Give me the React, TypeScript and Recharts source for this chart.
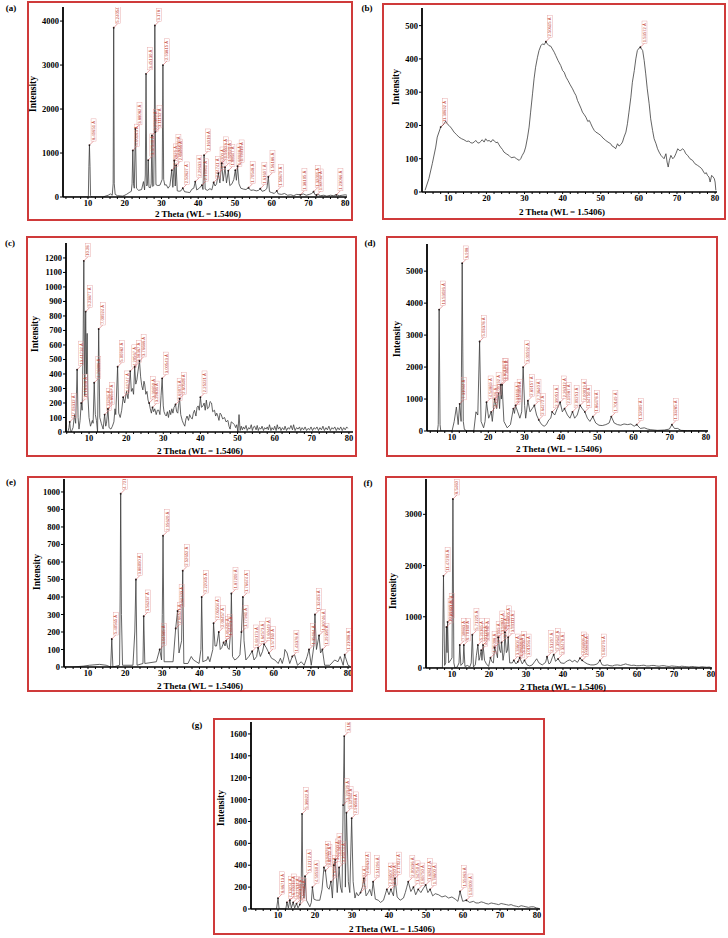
import { ComposedChart, Line, Scatter, XAxis, YAxis } from 'recharts'

// XRD patterns, [2 theta, intensity]
const patternA: [number, number][] = [
  [3.2, 0], [9.9, 0], [10.1, 20], [10.25, 700], [10.4, 1180], [10.55, 700], [10.7, 30], [11, 0], [14, 0], [15.5, 40],
  [16.1, 70], [16.6, 40], [16.85, 300], [17.0, 3850], [17.15, 300], [17.4, 60], [18, 30], [19.5, 20], [20.5, 60],
  [21.2, 100], [21.8, 130], [22.0, 300], [22.2, 1060], [22.4, 300], [22.6, 200], [22.9, 1550], [23.2, 200],
  [23.8, 150], [24.6, 170], [25.1, 350], [25.4, 160], [25.6, 500], [25.8, 2800], [26.0, 250], [26.2, 300],
  [26.4, 840], [26.6, 220], [27.0, 210], [27.2, 300], [27.4, 1400], [27.6, 240], [27.9, 260], [28.05, 1500],
  [28.2, 3900], [28.35, 1480], [28.5, 280], [29.0, 260], [29.6, 270], [30.2, 400], [30.4, 3000], [30.6, 400],
  [30.9, 270], [31.3, 280], [31.8, 200], [32.3, 260], [32.8, 610], [33.1, 220], [33.5, 830], [33.75, 250],
  [34.0, 720], [34.3, 140], [34.8, 130], [35.3, 140], [35.8, 200], [36.3, 120], [37.0, 110], [37.7, 100],
  [38.3, 180], [38.8, 200], [39.2, 350], [39.6, 160], [40.3, 200], [41.0, 270], [41.3, 170], [41.6, 950],
  [41.9, 180], [42.5, 150], [43.2, 190], [43.7, 160], [44.2, 330], [44.6, 250], [45.0, 300], [45.5, 540],
  [45.9, 320], [46.4, 770], [46.8, 360], [47.3, 680], [47.7, 320], [48.2, 600], [48.6, 260], [49.2, 300],
  [49.7, 400], [50.1, 610], [50.4, 380], [50.7, 700], [51.1, 300], [51.6, 200], [52.3, 180], [53.0, 170],
  [53.7, 210], [54.3, 150], [55.0, 160], [55.8, 140], [56.4, 150], [56.9, 190], [57.4, 130], [58.2, 150],
  [58.7, 200], [59.1, 460], [59.4, 120], [60.0, 100], [60.7, 80], [61.4, 140], [61.8, 70], [62.7, 60],
  [63.5, 80], [64.3, 40], [65.2, 50], [66.0, 30], [66.8, 60], [67.8, 50], [68.6, 70], [69.4, 40], [70.3, 60],
  [70.9, 80], [71.4, 120], [71.8, 50], [72.5, 60], [73.3, 30], [74.2, 40], [75.0, 20], [76.0, 40], [76.8, 30],
  [77.6, 50], [78.4, 30], [79.2, 40], [80.0, 50], [80.5, 40],
]

const patternB: [number, number][] = [
  [3.9, 5], [4.9, 40], [5.8, 85], [6.7, 135], [7.1, 165], [8.0, 195], [8.5, 200], [8.9, 205], [9.3, 213],
  [9.7, 205], [10.2, 200], [10.8, 192], [11.5, 180], [12.2, 172], [12.8, 165], [13.5, 160], [14.1, 157],
  [14.8, 152], [15.4, 153], [15.9, 148], [16.3, 147], [16.8, 150], [17.2, 155], [17.7, 148], [18.1, 147],
  [18.5, 152], [18.9, 157], [19.4, 150], [19.8, 160], [20.3, 153], [20.7, 155], [21.2, 150], [21.6, 157],
  [22.0, 155], [22.5, 148], [22.9, 150], [23.3, 142], [23.7, 135], [24.2, 128], [24.6, 120], [25.2, 115],
  [25.9, 110], [26.5, 103], [27.3, 105], [27.9, 100], [28.6, 95], [29.0, 100], [29.4, 110], [29.9, 120],
  [30.3, 135], [30.8, 165], [31.2, 195], [31.6, 240], [32.1, 295], [32.5, 340], [32.9, 375], [33.4, 405],
  [33.8, 425], [34.3, 440], [34.7, 445], [35.2, 443], [35.6, 452], [36.0, 445], [36.4, 440], [36.9, 438],
  [37.3, 430], [37.8, 420], [38.2, 410], [38.8, 395], [39.5, 380], [40.0, 365], [40.4, 360], [40.9, 345],
  [41.4, 335], [42.0, 322], [42.6, 310], [43.1, 298], [43.5, 290], [43.9, 275], [44.3, 265], [44.8, 252],
  [45.2, 240], [45.7, 232], [46.1, 225], [46.6, 212], [47.0, 215], [47.4, 205], [47.8, 195], [48.3, 185],
  [48.7, 180], [49.3, 176], [50.0, 170], [50.6, 162], [51.3, 155], [51.9, 150], [52.6, 145], [53.0, 138],
  [53.5, 135], [53.9, 130], [54.4, 145], [54.8, 138], [55.3, 143], [55.7, 150], [56.1, 165], [56.6, 180],
  [57.0, 205], [57.4, 240], [57.9, 285], [58.3, 330], [58.8, 365], [59.2, 400], [59.6, 425], [60.0, 432],
  [60.4, 435], [60.7, 430], [61.0, 425], [61.4, 395], [61.8, 355], [62.2, 310], [62.7, 265], [63.1, 220],
  [63.6, 185], [64.0, 160], [64.5, 145], [64.9, 130], [65.3, 120], [65.8, 110], [66.2, 105], [66.6, 100],
  [67.1, 115], [67.4, 90], [67.7, 75], [68.0, 95], [68.4, 110], [68.9, 100], [69.3, 105], [69.7, 115],
  [70.2, 130], [70.6, 125], [71.0, 125], [71.5, 130], [71.9, 125], [72.3, 115], [72.8, 110], [73.4, 100],
  [74.1, 95], [74.7, 85], [75.4, 80], [76.0, 75], [76.5, 70], [77.0, 60], [77.3, 55], [77.7, 58], [78.0, 50],
  [78.4, 45], [78.7, 30], [79.1, 50], [79.5, 45], [79.8, 40], [80.0, 30], [80.2, 5],
]

const patternC: [number, number][] = [
  [4.3, 0], [4.6, 30], [4.8, 70], [5.0, 10], [5.2, 0], [5.7, 30], [6.1, 120], [6.4, 60], [6.8, 430], [7.05, 100],
  [7.3, 20], [7.6, 80], [7.9, 200], [8.15, 150], [8.4, 600], [8.6, 1180], [8.85, 250], [9.1, 830], [9.3, 400],
  [9.5, 680], [9.7, 250], [10.0, 100], [10.4, 40], [10.9, 80], [11.1, 60], [11.4, 340], [11.7, 120], [12.0, 80],
  [12.3, 0], [12.6, 710], [12.9, 100], [13.3, 60], [13.8, 20], [14.2, 120], [14.5, 40], [14.7, 60], [15.1, 160],
  [15.4, 30], [15.9, 20], [16.3, 40], [16.7, 70], [17.0, 160], [17.2, 120], [17.7, 450], [18.0, 130], [18.4, 100],
  [18.8, 150], [19.2, 240], [19.6, 200], [20.1, 280], [20.5, 230], [20.8, 320], [21.1, 420], [21.4, 280],
  [21.7, 300], [22.0, 260], [22.3, 450], [22.6, 330], [22.9, 360], [23.2, 420], [23.6, 490], [23.9, 380],
  [24.2, 320], [24.5, 290], [24.8, 350], [25.0, 330], [25.3, 260], [25.6, 280], [25.9, 220], [26.2, 200],
  [26.5, 160], [26.8, 130], [27.1, 170], [27.4, 140], [27.7, 160], [28.1, 120], [28.4, 150], [28.8, 150],
  [29.1, 120], [29.4, 250], [29.7, 370], [30.0, 180], [30.2, 140], [30.5, 120], [30.8, 110], [31.1, 140],
  [31.4, 100], [31.7, 150], [32.0, 120], [32.3, 160], [32.6, 130], [32.9, 170], [33.3, 190], [33.6, 140],
  [33.9, 130], [34.1, 180], [34.4, 230], [34.7, 120], [35.1, 80], [35.4, 60], [35.8, 40], [36.1, 90], [36.4, 110],
  [36.8, 80], [37.1, 120], [37.4, 100], [37.8, 90], [38.1, 130], [38.4, 150], [38.8, 110], [39.1, 170],
  [39.4, 180], [39.7, 150], [40.0, 240], [40.3, 170], [40.7, 180], [41.0, 200], [41.3, 150], [41.6, 220],
  [41.9, 160], [42.3, 170], [42.6, 210], [43.0, 200], [43.3, 140], [43.8, 150], [44.1, 110], [44.4, 130],
  [44.7, 110], [45.0, 80], [45.3, 130], [45.6, 120], [46.0, 90], [46.5, 100], [46.9, 70], [47.4, 80], [47.7, 40],
  [48.0, 20], [48.3, 70], [48.8, 60], [49.2, 50], [49.5, 30], [49.8, 50], [50.1, 0], [50.4, 120], [50.7, 10],
  [51.0, 40], [51.3, 15], [51.6, 35], [51.9, 20], [52.3, 45], [52.6, 10], [53.0, 30], [53.3, 20], [53.7, 50],
  [54.0, 10], [54.3, 35], [54.6, 40], [55.0, 15], [55.3, 45], [55.6, 10], [55.9, 30], [56.3, 20], [56.6, 40],
  [57.0, 10], [57.3, 30], [57.7, 20], [58.0, 35], [58.3, 15], [58.6, 50], [59.0, 10], [59.3, 30], [59.7, 15],
  [60.0, 40], [60.4, 10], [60.7, 50], [61.0, 20], [61.4, 35], [61.7, 10], [62.1, 30], [62.5, 15], [62.8, 40],
  [63.2, 10], [63.6, 30], [64.0, 20], [64.4, 45], [64.8, 15], [65.1, 50], [65.5, 10], [65.9, 30], [66.3, 20],
  [66.7, 35], [67.0, 10], [67.4, 30], [67.8, 15], [68.2, 35], [68.6, 10], [69.0, 25], [69.4, 15], [69.8, 35],
  [70.2, 10], [70.6, 30], [71.0, 20], [71.4, 35], [71.8, 10], [72.2, 30], [72.6, 15], [73.0, 40], [73.4, 10],
  [73.8, 30], [74.2, 15], [74.6, 40], [75.0, 10], [75.4, 30], [75.8, 20], [76.2, 35], [76.6, 10], [77.0, 30],
  [77.4, 15], [77.8, 35], [78.2, 10], [78.6, 30], [79.0, 15], [79.4, 35], [79.7, 25],
]

const patternD: [number, number][] = [
  [3.1, 0], [6.0, 0], [6.2, 200], [6.45, 3800], [6.7, 200], [6.9, 0], [10.0, 0], [10.6, 300], [11.2, 750],
  [11.7, 200], [12.1, 850], [12.5, 300], [12.8, 5250], [13.1, 300], [13.4, 50], [14.1, 0], [16.0, 0], [16.6, 600],
  [17.1, 500], [17.6, 2800], [18.0, 300], [18.7, 100], [19.1, 300], [19.5, 900], [20.1, 400], [20.8, 600],
  [21.1, 300], [21.7, 1000], [22.3, 700], [22.8, 1200], [23.1, 700], [23.4, 1450], [23.6, 1000], [23.8, 1450],
  [24.3, 300], [25.2, 100], [26.1, 200], [26.9, 700], [27.2, 550], [27.5, 800], [28.1, 600], [28.7, 400],
  [29.2, 600], [29.6, 2000], [30.0, 800], [30.3, 400], [30.9, 950], [31.5, 600], [32.1, 700], [32.7, 800],
  [33.3, 500], [33.9, 350], [34.4, 250], [34.9, 180], [35.4, 150], [36.0, 200], [36.7, 350], [37.2, 400],
  [37.6, 600], [38.3, 500], [39.0, 700], [39.8, 900], [40.4, 600], [41.0, 700], [41.8, 500], [42.5, 400],
  [43.2, 600], [43.8, 400], [44.5, 500], [45.3, 800], [45.9, 700], [46.6, 600], [47.3, 400], [48.0, 300],
  [48.8, 450], [49.6, 250], [50.5, 180], [51.4, 170], [52.4, 200], [53.3, 250], [53.9, 450], [54.7, 250],
  [55.6, 200], [56.5, 180], [57.4, 220], [58.4, 200], [59.3, 220], [60.2, 150], [60.9, 200], [61.9, 80],
  [63.0, 100], [63.9, 60], [64.8, 40], [65.7, 30], [66.6, 20], [68.5, 30], [69.9, 60], [70.6, 200], [71.3, 80],
  [72.2, 80], [73.1, 20], [74.9, 10], [77.7, 10], [80.5, 0],
]

const patternE: [number, number][] = [
  [3.5, 0], [6.0, 0], [8.7, 5], [10.4, 10], [13.1, 15], [14.9, 10], [16.1, 0], [16.4, 160], [16.7, 0], [18.5, 10],
  [18.65, 400], [18.8, 990], [19.0, 300], [19.3, 10], [22.1, 10], [22.6, 200], [22.9, 500], [23.2, 10], [24.8, 20],
  [25.0, 290], [25.3, 20], [28.4, 30], [29.3, 100], [29.8, 40], [30.0, 300], [30.2, 750], [30.5, 30], [32.9, 30],
  [33.6, 220], [34.1, 320], [34.5, 80], [35.2, 150], [35.5, 550], [35.8, 20], [36.9, 20], [37.8, 60], [38.4, 40],
  [39.9, 20], [40.4, 100], [40.6, 400], [40.9, 30], [42.0, 40], [42.3, 60], [42.8, 30], [43.6, 100], [43.8, 250],
  [44.2, 120], [44.6, 120], [45.2, 200], [45.6, 100], [46.0, 110], [46.5, 140], [46.9, 120], [47.2, 150],
  [47.6, 110], [48.0, 100], [48.4, 200], [48.6, 420], [48.9, 60], [49.5, 40], [50.2, 50], [50.9, 70], [51.3, 200],
  [51.7, 400], [52.0, 150], [52.5, 40], [53.3, 60], [54.2, 90], [54.7, 40], [55.4, 60], [55.8, 110], [56.4, 60],
  [57.0, 90], [57.4, 130], [58.0, 110], [58.7, 80], [59.4, 50], [60.3, 40], [61.2, 20], [61.8, 50], [62.3, 20],
  [62.8, 60], [63.0, 100], [63.6, 80], [64.3, 20], [65.0, 60], [65.6, 70], [66.4, 10], [67.4, 30], [68.2, 10],
  [69.0, 60], [69.5, 100], [70.1, 10], [70.8, 120], [71.1, 300], [71.5, 100], [72.2, 180], [72.6, 80],
  [73.1, 100], [73.7, 10], [75.1, 10], [76.4, 40], [77.3, 30], [77.9, 60], [78.7, 10], [79.1, 70], [80.0, 10],
  [80.5, 5],
]

const patternF: [number, number][] = [
  [3.0, 0], [7.4, 0], [7.7, 1800], [8.0, 50], [8.3, 100], [8.5, 800], [8.65, 300], [8.8, 900], [9.1, 100],
  [9.7, 160], [10.0, 200], [10.25, 3300], [10.5, 100], [10.8, 0], [11.4, 20], [11.9, 100], [12.1, 450], [12.4, 50],
  [13.0, 100], [13.2, 450], [13.5, 30], [14.2, 50], [14.8, 20], [15.2, 100], [15.5, 650], [15.8, 20], [16.3, 60],
  [16.6, 250], [17.0, 450], [17.3, 150], [17.5, 200], [17.9, 350], [18.1, 150], [18.4, 450], [18.8, 150],
  [19.3, 80], [19.9, 30], [20.4, 200], [20.8, 120], [21.2, 100], [21.5, 400], [22.0, 300], [22.3, 200],
  [22.5, 600], [22.9, 350], [23.2, 300], [23.4, 500], [23.8, 150], [24.1, 300], [24.3, 700], [24.7, 300],
  [25.0, 350], [25.2, 600], [25.6, 100], [26.3, 100], [26.7, 150], [27.3, 80], [27.8, 120], [28.3, 200],
  [29.0, 80], [29.6, 150], [30.3, 60], [31.0, 40], [31.7, 60], [32.3, 120], [32.9, 180], [33.5, 100], [34.4, 60],
  [35.3, 110], [35.7, 220], [36.2, 80], [36.6, 100], [37.1, 200], [37.5, 260], [38.0, 130], [38.7, 180],
  [39.4, 100], [40.3, 90], [40.8, 120], [41.2, 140], [41.9, 160], [42.5, 120], [43.2, 150], [43.9, 110],
  [44.6, 190], [45.2, 150], [45.9, 110], [46.6, 80], [47.5, 60], [48.4, 60], [49.3, 80], [50.0, 150], [50.6, 60],
  [51.3, 50], [52.0, 60], [52.7, 45], [53.4, 40], [54.0, 55], [54.7, 60], [55.6, 50], [56.3, 65], [57.0, 80],
  [57.5, 65], [57.9, 60], [58.5, 50], [59.2, 55], [59.9, 45], [60.6, 45], [61.2, 50], [61.9, 55], [62.6, 40],
  [63.3, 40], [64.0, 50], [64.6, 50], [65.3, 40], [66.0, 35], [66.7, 45], [67.4, 45], [68.0, 35], [68.7, 30],
  [69.4, 40], [70.1, 35], [70.8, 30], [71.4, 25], [72.1, 35], [72.8, 30], [73.5, 25], [74.1, 20], [74.8, 30],
  [75.5, 25], [76.2, 20], [76.8, 15], [77.5, 25], [78.2, 20], [78.9, 15], [79.6, 20], [80.0, 10],
]

const patternG: [number, number][] = [
  [2.7, 0], [9.6, 0], [10.0, 100], [10.3, 0], [12.1, 0], [12.4, 60], [12.8, 10], [13.2, 80], [13.6, 10], [14.1, 60],
  [14.5, 10], [15.0, 50], [15.4, 10], [15.9, 40], [16.1, 80], [16.3, 300], [16.5, 870], [16.7, 250], [17.0, 100],
  [17.3, 300], [17.7, 80], [18.6, 20], [19.0, 60], [19.3, 200], [19.7, 90], [20.4, 80], [21.3, 80], [21.9, 180],
  [22.4, 380], [22.8, 350], [23.3, 200], [23.8, 180], [24.3, 250], [24.7, 100], [25.1, 400], [25.5, 450],
  [26.0, 150], [26.5, 380], [26.9, 200], [27.3, 150], [27.6, 950], [27.9, 1580], [28.2, 200], [28.5, 880],
  [29.0, 250], [29.4, 150], [29.9, 830], [30.3, 250], [30.8, 100], [31.2, 150], [31.7, 120], [32.3, 150],
  [32.8, 200], [33.2, 280], [33.8, 120], [34.4, 150], [34.8, 180], [35.3, 120], [35.7, 250], [36.3, 90],
  [37.1, 80], [37.7, 60], [38.5, 80], [39.4, 180], [40.0, 130], [40.5, 180], [41.2, 120], [41.6, 280],
  [42.2, 110], [43.0, 80], [43.9, 100], [44.4, 150], [44.8, 200], [45.2, 250], [45.9, 160], [46.6, 200],
  [47.2, 130], [47.9, 180], [48.6, 150], [49.3, 190], [49.9, 220], [50.5, 150], [51.1, 180], [51.8, 120],
  [52.5, 140], [53.4, 130], [54.3, 110], [55.2, 120], [56.1, 100], [57.0, 110], [57.9, 90], [58.6, 70],
  [59.2, 160], [59.9, 70], [60.9, 80], [61.8, 60], [62.8, 70], [63.5, 55], [64.2, 55], [64.9, 65], [65.5, 60],
  [66.2, 50], [66.9, 45], [67.6, 55], [68.3, 50], [69.0, 45], [69.6, 40], [70.3, 50], [71.0, 45], [71.7, 40],
  [72.3, 35], [73.0, 40], [73.7, 30], [74.4, 25], [75.0, 20], [75.7, 30], [76.4, 25], [77.0, 20], [77.7, 15],
  [78.4, 20], [79.1, 20], [79.8, 10], [80.5, 5],
]

// peak annotations, [2 theta, intensity, d-spacing label]
const tagsA: [number, number, string][] = [
  [10.4, 1180, '8.49651 Å'], [17.0, 3850, '5.24054'], [22.2, 1060, '4.00163 Å'], [22.9, 1550, '3.88082 Å'],
  [25.8, 2800, '3.45130 Å'], [26.4, 840, '3.37540 Å'], [27.4, 1400, '3.25349 Å'], [28.2, 3900, '3.178'],
  [28.35, 1480, '3.11152 Å'], [30.4, 3000, '2.93815 Å'], [32.8, 610, '2.72829 Å'], [33.5, 830, '2.67276 Å'],
  [34.0, 720, '2.63466 Å'], [35.8, 200, '2.50627 Å'], [39.2, 350, '2.29633 Å'], [41.0, 270, '2.19961 Å'],
  [41.6, 950, '2.16918 Å'], [44.2, 330, '2.04741 Å'], [45.5, 540, '1.99200 Å'], [46.4, 770, '1.95526 Å'],
  [47.3, 680, '1.92020 Å'], [48.2, 600, '1.88647 Å'], [50.1, 610, '1.81928 Å'], [50.7, 700, '1.79919 Å'],
  [53.7, 210, '1.70548 Å'], [56.9, 190, '1.61697 Å'], [59.1, 460, '1.56186 Å'], [61.4, 140, '1.50879 Å'],
  [67.8, 50, '1.38105 Å'], [71.4, 120, '1.32011 Å'], [72.2, 40, '1.30732 Å'], [77.6, 50, '1.23066 Å'],
]
const tagsB: [number, number, string][] = [
  [8.0, 195, '11.30692 Å'], [35.6, 452, '2.50615 Å'], [60.4, 435, '1.53572 Å'],
]
const tagsC: [number, number, string][] = [
  [4.8, 70, '17.03312 Å'], [6.8, 430, '13.41732 Å'], [7.9, 200, '11.18348 Å'], [8.6, 1180, '10.28'],
  [9.1, 830, '9.23877 Å'], [11.4, 340, '7.76006 Å'], [12.6, 710, '7.00924 Å'], [14.2, 120, '6.23296 Å'],
  [15.1, 160, '5.86517 Å'], [17.7, 450, '5.00982 Å'], [19.2, 240, '4.61747 Å'], [21.1, 420, '4.20567 Å'],
  [22.3, 450, '3.98367 Å'], [23.6, 490, '3.76686 Å'], [26.2, 200, '3.39850 Å'], [27.1, 170, '3.29836 Å'],
  [29.7, 370, '3.00543 Å'], [33.3, 190, '2.69073 Å'], [34.4, 230, '2.60548 Å'], [40.0, 240, '2.25221 Å'],
]
const tagsD: [number, number, string][] = [
  [6.45, 3800, '13.53026 Å'], [12.1, 850, '7.31044 Å'], [12.8, 5250, '6.908'], [17.6, 2800, '5.03378 Å'],
  [19.5, 900, '4.54869 Å'], [20.8, 600, '4.26616 Å'], [21.7, 1000, '4.09192 Å'], [23.4, 1450, '3.80106 Å'],
  [23.8, 1450, '3.73613 Å'], [26.9, 700, '3.31199 Å'], [27.5, 800, '3.24096 Å'], [29.6, 2000, '3.01592 Å'],
  [30.9, 950, '2.89157 Å'], [32.7, 800, '2.73640 Å'], [33.9, 350, '2.64272 Å'], [37.6, 600, '2.39051 Å'],
  [39.8, 900, '2.26312 Å'], [41.0, 700, '2.19987 Å'], [43.2, 600, '2.09251 Å'], [45.3, 800, '2.00019 Å'],
  [46.6, 600, '1.94750 Å'], [48.8, 450, '1.86478 Å'], [53.9, 450, '1.70149 Å'], [60.9, 200, '1.52009 Å'],
  [70.6, 200, '1.33285 Å'],
]
const tagsE: [number, number, string][] = [
  [16.4, 160, '5.40565 Å'], [18.8, 990, '4.721'], [22.9, 500, '3.88090 Å'], [25.0, 290, '3.56237 Å'],
  [29.3, 100, '3.04585 Å'], [30.2, 750, '2.95620 Å'], [33.6, 220, '2.66521 Å'], [34.1, 320, '2.62703 Å'],
  [35.5, 550, '2.52652 Å'], [40.6, 400, '2.22045 Å'], [43.8, 250, '2.06504 Å'], [45.2, 200, '2.00457 Å'],
  [46.5, 140, '1.95249 Å'], [47.2, 150, '1.92473 Å'], [48.6, 420, '1.87209 Å'], [51.3, 200, '1.77981 Å'],
  [51.7, 400, '1.76674 Å'], [54.2, 90, '1.69173 Å'], [55.8, 110, '1.64573 Å'], [57.4, 130, '1.60449 Å'],
  [58.7, 80, '1.57169 Å'], [65.0, 60, '1.43378 Å'], [69.5, 100, '1.35164 Å'], [71.1, 300, '1.32493 Å'],
  [72.2, 180, '1.30746 Å'], [73.1, 100, '1.29356 Å'], [79.1, 70, '1.21008 Å'],
]
const tagsF: [number, number, string][] = [
  [7.7, 1800, '11.47203 Å'], [8.5, 800, '10.39415 Å'], [8.8, 900, '10.04102 Å'], [10.25, 3300, '8.5460'],
  [12.1, 450, '7.30883 Å'], [13.2, 450, '6.70180 Å'], [15.5, 650, '5.71225 Å'], [17.0, 450, '5.21165 Å'],
  [17.9, 350, '4.95123 Å'], [18.4, 450, '4.81787 Å'], [20.4, 200, '4.35008 Å'], [21.5, 400, '4.12999 Å'],
  [22.5, 600, '3.94841 Å'], [23.4, 500, '3.79866 Å'], [24.3, 700, '3.66005 Å'], [25.2, 600, '3.53111 Å'],
  [26.7, 150, '3.33604 Å'], [27.8, 120, '3.20650 Å'], [28.3, 200, '3.15097 Å'], [29.6, 150, '3.01556 Å'],
  [35.7, 220, '2.51297 Å'], [37.5, 260, '2.39642 Å'], [38.7, 180, '2.32478 Å'], [44.6, 190, '2.03009 Å'],
  [45.2, 150, '2.00436 Å'], [50.0, 150, '1.82276 Å'],
]
const tagsG: [number, number, string][] = [
  [10.0, 100, '8.86713 Å'], [12.4, 60, '7.13274 Å'], [13.2, 80, '6.70219 Å'], [14.1, 60, '6.27614 Å'],
  [15.0, 50, '5.90119 Å'], [15.9, 40, '5.56930 Å'], [16.5, 870, '5.36822 Å'], [17.3, 300, '5.12172 Å'],
  [19.3, 200, '4.59530 Å'], [22.4, 380, '3.96579 Å'], [22.8, 350, '3.89712 Å'], [24.3, 250, '3.65990 Å'],
  [25.1, 400, '3.54500 Å'], [25.5, 450, '3.48904 Å'], [26.5, 380, '3.36074 Å'], [27.6, 950, '3.22929 Å'],
  [27.9, 1580, '3.182'], [28.5, 880, '3.12944 Å'], [29.9, 830, '2.98588 Å'], [32.3, 150, '2.76924 Å'],
  [33.2, 280, '2.69630 Å'], [35.7, 250, '2.51296 Å'], [39.4, 180, '2.28507 Å'], [40.5, 180, '2.22550 Å'],
  [41.6, 280, '2.17022 Å'], [45.2, 250, '2.00436 Å'], [46.6, 200, '1.94750 Å'], [47.9, 180, '1.89750 Å'],
  [49.9, 220, '1.82612 Å'], [51.1, 180, '1.78600 Å'], [59.2, 160, '1.55963 Å'], [60.9, 80, '1.52009 Å'],
]

const ticksA = [0, 1000, 2000, 3000, 4000]
const ticksB = [0, 100, 200, 300, 400, 500]
const ticksC = [0, 100, 200, 300, 400, 500, 600, 700, 800, 900, 1000, 1100, 1200]
const ticksD = [0, 1000, 2000, 3000, 4000, 5000]
const ticksE = [0, 100, 200, 300, 400, 500, 600, 700, 800, 900, 1000]
const ticksF = [0, 1000, 2000, 3000]
const ticksG = [0, 200, 400, 600, 800, 1000, 1200, 1400, 1600]

const thetaTicks = [4, 6, 8, 10, 12, 14, 16, 18, 20, 22, 24, 26, 28, 30, 32, 34, 36, 38, 40, 42, 44, 46, 48, 50,
  52, 54, 56, 58, 60, 62, 64, 66, 68, 70, 72, 74, 76, 78, 80]

const SERIF = '"Liberation Serif", "Times New Roman", serif'

interface PanelDef {
  letter: string
  pattern: [number, number][]
  tags: [number, number, string][]
  yTicks: number[]
  box: [number, number, number, number] // left, top, right, bottom
  plot: [number, number, number, number] // left, top, right, zero line
  xDomain: [number, number]
  yMax: number
  letterAt: [number, number]
  yTitleAt: [number, number]
  xTitleAt: [number, number]
}

const panels: PanelDef[] = [
  { letter: '(a)', pattern: patternA, tags: tagsA, yTicks: ticksA, box: [27, 1, 353, 221], plot: [63, 7, 347, 197],
    xDomain: [3.2, 80.5], yMax: 4320, letterAt: [11, 8], yTitleAt: [33, 94], xTitleAt: [198, 214] },
  { letter: '(b)', pattern: patternB, tags: tagsB, yTicks: ticksB, box: [382, 3, 726, 220], plot: [422, 8, 717, 192],
    xDomain: [3.1, 80.5], yMax: 553, letterAt: [367, 8], yTitleAt: [396, 87], xTitleAt: [562, 212] },
  { letter: '(c)', pattern: patternC, tags: tagsC, yTicks: ticksC, box: [26, 236, 357, 457], plot: [66, 243, 353, 432],
    xDomain: [3.8, 81.1], yMax: 1303, letterAt: [10, 243], yTitleAt: [35, 334], xTitleAt: [200, 451] },
  { letter: '(d)', pattern: patternD, tags: tagsD, yTicks: ticksD, box: [386, 236, 718, 457], plot: [427, 244, 708, 431],
    xDomain: [3.1, 80.55], yMax: 5850, letterAt: [370, 243], yTitleAt: [397, 339], xTitleAt: [559, 449] },
  { letter: '(e)', pattern: patternE, tags: tagsE, yTicks: ticksE, box: [27, 476, 353, 692], plot: [64, 479, 351, 667],
    xDomain: [3.54, 80.8], yMax: 1074, letterAt: [11, 482], yTitleAt: [37, 572], xTitleAt: [200, 686] },
  { letter: '(f)', pattern: patternF, tags: tagsF, yTicks: ticksF, box: [385, 476, 717, 692], plot: [426, 479, 712, 668],
    xDomain: [2.97, 80.3], yMax: 3690, letterAt: [368, 483], yTitleAt: [393, 591], xTitleAt: [563, 687] },
  { letter: '(g)', pattern: patternG, tags: tagsG, yTicks: ticksG, box: [213, 718, 545, 935], plot: [251, 722, 540, 909],
    xDomain: [2.7, 80.8], yMax: 1709, letterAt: [197, 725], yTitleAt: [221, 808], xTitleAt: [392, 929] },
]

function PeakTag(props: any) {
  const { cx, cy, payload } = props
  if (cx == null || cy == null) return null
  const text: string = payload.tag
  const len = text.length * 2.25 + 2
  const bx = cx + 4
  const by = cy - 4
  return (
    <g>
      <circle cx={cx} cy={cy} r={0.9} fill="#111" />
      <polyline points={`${cx},${cy} ${bx},${by}`} stroke="#d04848" strokeWidth={0.5} fill="none" />
      <rect x={bx - 2.4} y={by - len} width={5} height={len} fill="none" stroke="#e39a9a" strokeWidth={0.4} />
      <text
        transform={`translate(${bx + 1.5},${by - 1}) rotate(-90)`}
        fontSize={4.2}
        fill="#c0392b"
        fontFamily='"Liberation Sans", Arial, sans-serif'
      >
        {text}
      </text>
    </g>
  )
}

function XrdPanel({ def }: { def: PanelDef }) {
  const [bl, bt, br, bb] = def.box
  const [pl, pt, pr, pb] = def.plot
  const width = br - bl
  const height = bb - bt
  const lineData = def.pattern.map(([x, y]) => ({ x, y }))
  const tagData = def.tags.map(([x, y, tag]) => ({ x, y, tag }))
  const tickStyle = { fontSize: 8.5, fontWeight: 700, fill: '#000', fontFamily: SERIF }

  return (
    <>
      <div style={{ position: 'absolute', left: bl, top: bt, width, height }}>
        <ComposedChart width={width} height={height} margin={{ top: pt - bt, right: br - pr, left: 0, bottom: 0 }}>
          <XAxis
            type="number"
            dataKey="x"
            domain={def.xDomain}
            allowDataOverflow
            ticks={thetaTicks}
            interval={0}
            tickFormatter={(v: number) => (v % 10 === 0 ? String(v) : '')}
            height={bb - pb}
            tick={tickStyle}
            tickSize={2}
            tickMargin={1}
            tickLine={{ stroke: '#000' }}
            axisLine={{ stroke: '#000', strokeWidth: 1.6 }}
          />
          <YAxis
            type="number"
            domain={[0, def.yMax]}
            allowDataOverflow
            ticks={def.yTicks}
            interval={0}
            width={pl - bl}
            tick={tickStyle}
            tickSize={3}
            tickMargin={1}
            tickLine={{ stroke: '#000' }}
            axisLine={{ stroke: '#000', strokeWidth: 1.8 }}
          />
          <Line
            data={lineData}
            dataKey="y"
            type="linear"
            stroke="#3c3c3c"
            strokeWidth={0.8}
            dot={false}
            activeDot={false}
            isAnimationActive={false}
          />
          <Scatter data={tagData} dataKey="y" shape={PeakTag} isAnimationActive={false} />
        </ComposedChart>
      </div>
      <div
        style={{
          position: 'absolute',
          left: bl,
          top: bt,
          width,
          height,
          boxSizing: 'border-box',
          border: '2px solid #cf3a3a',
          pointerEvents: 'none',
        }}
      />
      <div
        style={{
          position: 'absolute',
          left: def.letterAt[0],
          top: def.letterAt[1],
          transform: 'translate(-50%, -50%)',
          fontFamily: SERIF,
          fontWeight: 700,
          fontSize: 9,
          whiteSpace: 'nowrap',
        }}
      >
        {def.letter}
      </div>
      <div
        style={{
          position: 'absolute',
          left: def.yTitleAt[0],
          top: def.yTitleAt[1],
          transform: 'translate(-50%, -50%) rotate(-90deg)',
          fontFamily: SERIF,
          fontWeight: 700,
          fontSize: 9.5,
          whiteSpace: 'nowrap',
        }}
      >
        Intensity
      </div>
      <div
        style={{
          position: 'absolute',
          left: def.xTitleAt[0],
          top: def.xTitleAt[1],
          transform: 'translate(-50%, -50%)',
          fontFamily: SERIF,
          fontWeight: 700,
          fontSize: 9,
          whiteSpace: 'nowrap',
        }}
      >
        2 Theta (WL = 1.5406)
      </div>
    </>
  )
}

export default function App() {
  return (
    <div style={{ position: 'absolute', left: 0, top: 0, width: 728, height: 938, background: '#fff' }}>
      {panels.map((p) => (
        <XrdPanel key={p.letter} def={p} />
      ))}
    </div>
  )
}
